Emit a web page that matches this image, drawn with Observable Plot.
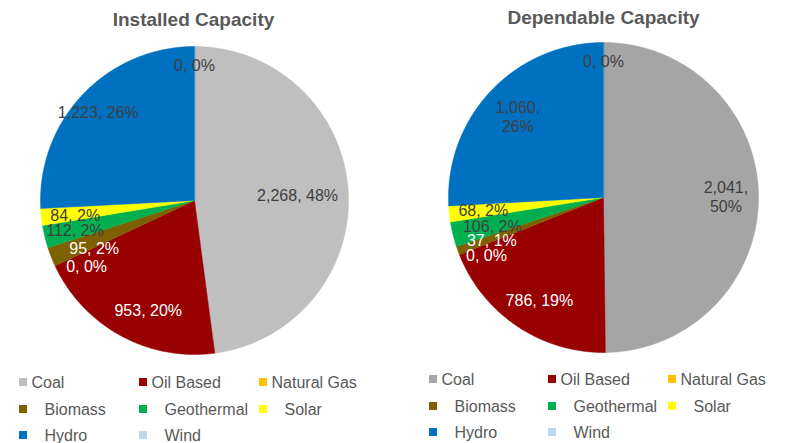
<!DOCTYPE html>
<html><head><meta charset="utf-8">
<script src="https://cdn.jsdelivr.net/npm/d3@7"></script>
<script src="https://cdn.jsdelivr.net/npm/@observablehq/plot@0.6"></script>
<style>body{margin:0;background:#fff;}</style>
</head><body><div id="chart"></div>
<script>
// ---- data ----
const categories = ["Coal","Oil Based","Natural Gas","Biomass","Geothermal","Solar","Hydro","Wind"];
const installedValues = [2268, 953, 0, 95, 112, 84, 1223, 0];
const installedPct = [48, 20, 0, 2, 2, 2, 26, 0];
const dependableValues = [2041, 786, 0, 37, 106, 68, 1060, 0];
const dependablePct = [50, 19, 0, 1, 2, 2, 26, 0];
const chartTitles = ["Installed Capacity", "Dependable Capacity"];

// ---- styles / layout ----
const installedColors = ["#BFBFBF","#990000","#FFC000","#7F6000","#00B050","#FFFF00","#0070C0","#BDD7EE"];
const dependableColors = ["#A5A5A5","#990000","#FFC000","#7F6000","#00B050","#FFFF00","#0070C0","#BDD7EE"];
const labelColors = ["#404040","#ffffff","#ffffff","#ffffff","#404040","#404040","#404040","#404040"];
const pies = [
  {title: chartTitles[0], values: installedValues, pct: installedPct, colors: installedColors,
   cx: 194, cy: 200, r: 154, titleX: 193, titleY: 19,
   labelR: [0.67, 0.77, 0.82, 0.72, 0.80, 0.78, 0.85, 0.88],
   labelDA: [1, -5.7, -6.2, -3.7, -0.4, -0.6, -0.8, 0], wrap: [],
   legCols: [23, 143, 263], legRows: [382, 409, 435]},
  {title: chartTitles[1], values: dependableValues, pct: dependablePct, colors: dependableColors,
   cx: 603, cy: 197, r: 155, titleX: 603, titleY: 17,
   labelR: [0.79, 0.78, 0.84, 0.77, 0.74, 0.78, 0.76, 0.88],
   labelDA: [0, -1.8, -4.4, -0.7, -0.5, 0, 0, 0], wrap: ["Coal", "Hydro"],
   legCols: [433, 552, 672], legRows: [379, 406, 432]}
];

const slicePts = [], labels = [], titles = [], legRects = [], legTexts = [];
const fmt = d3.format(",");
pies.forEach((p, pi) => {
  const arcs = d3.pie().sort(null).value(d => d)(p.values);
  arcs.forEach((a, i) => {
    const mid = (a.startAngle + a.endAngle) / 2 + p.labelDA[i] * Math.PI / 180;
    const lr = p.r * p.labelR[i];
    const sep = p.wrap.includes(categories[i]) ? ",\n" : ", ";
    labels.push({x: p.cx + lr * Math.sin(mid), y: p.cy - lr * Math.cos(mid),
      text: fmt(p.values[i]) + sep + p.pct[i] + "%", color: labelColors[i]});
    if (a.value <= 0) return;
    const key = pi + "-" + i;
    slicePts.push({key, x: p.cx, y: p.cy, color: p.colors[i]});
    const n = Math.max(2, Math.ceil((a.endAngle - a.startAngle) / 0.01));
    for (let k = 0; k <= n; k++) {
      const t = a.startAngle + (a.endAngle - a.startAngle) * k / n;
      slicePts.push({key, x: p.cx + p.r * Math.sin(t), y: p.cy - p.r * Math.cos(t), color: p.colors[i]});
    }
  });
  titles.push({x: p.titleX, y: p.titleY, text: p.title});
  categories.forEach((c, i) => {
    const col = i % 3, row = Math.floor(i / 3);
    const lx = p.legCols[col], ly = p.legRows[row];
    legRects.push({x1: lx - 4, x2: lx + 4, y1: ly - 4, y2: ly + 4, color: p.colors[i]});
    legTexts.push({x: lx + (row === 0 ? 8 : 21), y: ly, text: c});
  });
});

const chart = Plot.plot({
  width: 787, height: 443,
  margin: 0,
  style: {fontFamily: "'Liberation Sans', Arial, sans-serif", background: "#fff"},
  x: {domain: [0, 787], range: [0, 787], axis: null},
  y: {domain: [0, 443], range: [0, 443], axis: null},
  color: {type: "identity"},
  marks: [
    Plot.line(slicePts, {x: "x", y: "y", z: "key", fill: "color", stroke: "color", strokeWidth: 0.5, curve: "linear-closed"}),
    Plot.text(labels, {x: "x", y: "y", text: "text", fill: "color", fontSize: 16, lineHeight: 1.15}),
    Plot.text(titles, {x: "x", y: "y", text: "text", fill: "#595959", fontSize: 19, fontWeight: "bold"}),
    Plot.rect(legRects, {x1: "x1", x2: "x2", y1: "y1", y2: "y2", fill: "color"}),
    Plot.text(legTexts, {x: "x", y: "y", text: "text", fill: "#595959", fontSize: 16, textAnchor: "start"})
  ]
});
document.getElementById("chart").append(chart);
</script>
</body></html>
